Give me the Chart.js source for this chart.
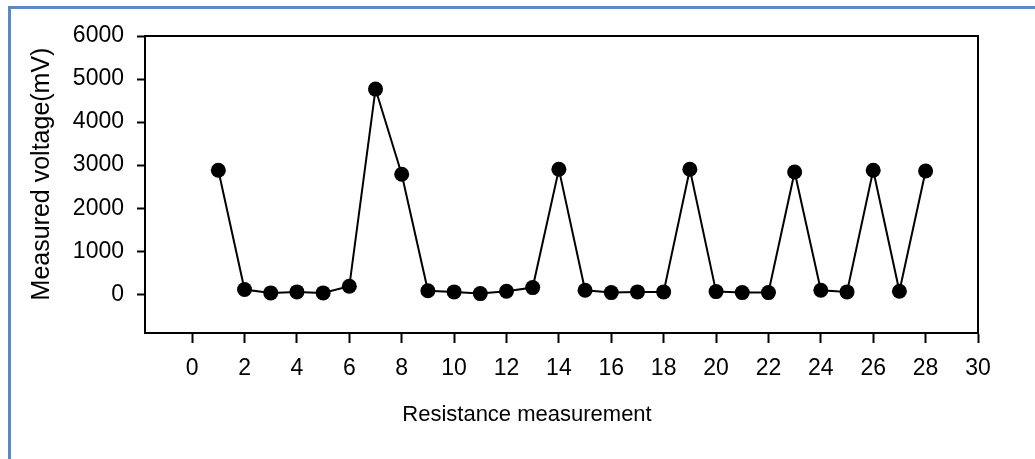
<!DOCTYPE html>
<html lang="en">
<head>
    <meta charset="utf-8" />
    <title>Measured voltage</title>
    <style>
        body {
            margin: 0;
            background: #fff;
        }
        #frame {
            position: absolute;
            left: 8px;
            top: 6px;
            width: 1100px;
            height: 500px;
            border-top: 3px solid #5a89c6;
            border-left: 3px solid #5a89c6;
        }
        #chartBox {
            position: absolute;
            left: 0;
            top: 0;
            width: 1035px;
            height: 459px;
        }
    </style>
</head>
<body>
    <div id="frame"></div>
    <div id="chartBox">
        <canvas id="voltChart"></canvas>
    </div>

    <script src="https://cdn.jsdelivr.net/npm/chart.js"></script>
    <script>
        // values
        var measurement = [1, 2, 3, 4, 5, 6, 7, 8, 9, 10, 11, 12, 13, 14,
            15, 16, 17, 18, 19, 20, 21, 22, 23, 24, 25, 26, 27, 28];
        var voltage = [2880, 110, 32, 55, 32, 185, 4767, 2788, 80, 55, 16, 70, 155, 2903,
            92, 39, 55, 55, 2903, 62, 39, 39, 2841, 92, 55, 2880, 70, 2864];
        var xTicks = [0, 2, 4, 6, 8, 10, 12, 14, 16, 18, 20, 22, 24, 26, 28, 30];
        var yTicks = [0, 1000, 2000, 3000, 4000, 5000, 6000];
        var xTitle = 'Resistance measurement';
        var yTitle = 'Measured voltage(mV)';

        Chart.defaults.font.family = '"Liberation Sans", Arial, sans-serif';
        Chart.defaults.color = '#000';

        var points = measurement.map(function (m, i) {
            return { x: m, y: voltage[i] };
        });

        // closes the box on top and right, and writes the axis titles
        var boxAndTitles = {
            id: 'boxAndTitles',
            afterDraw: function (chart) {
                var ctx = chart.ctx;
                var a = chart.chartArea;
                ctx.save();
                ctx.strokeStyle = '#000';
                ctx.lineWidth = 2;
                ctx.beginPath();
                ctx.moveTo(a.left, a.top);
                ctx.lineTo(a.right, a.top);
                ctx.lineTo(a.right, a.bottom);
                ctx.stroke();

                ctx.fillStyle = '#000';
                ctx.textAlign = 'center';
                ctx.textBaseline = 'alphabetic';
                ctx.font = '22px "Liberation Sans", Arial, sans-serif';
                ctx.fillText(xTitle, 527, 421);

                ctx.translate(49, 174);
                ctx.rotate(-Math.PI / 2);
                ctx.font = '25px "Liberation Sans", Arial, sans-serif';
                ctx.fillText(yTitle, 0, 0);
                ctx.restore();
            }
        };

        var plainNumber = function (v) { return String(v); };

        var ctx = document.getElementById('voltChart').getContext('2d');
        var voltChart = new Chart(ctx, {
            type: 'scatter',
            data: {
                datasets: [{
                    data: points,
                    showLine: true,
                    borderColor: '#000',
                    borderWidth: 2,
                    backgroundColor: '#000',
                    pointRadius: 7.5,
                    pointBorderWidth: 0
                }]
            },
            options: {
                responsive: true,
                maintainAspectRatio: false,
                animation: false,
                layout: {
                    padding: { left: 0, top: 36, right: 57, bottom: 0 }
                },
                plugins: {
                    legend: { display: false },
                    tooltip: { enabled: false }
                },
                scales: {
                    x: {
                        type: 'linear',
                        min: -1.8,
                        max: 30,
                        afterBuildTicks: function (scale) {
                            scale.ticks = xTicks.map(function (v) { return { value: v }; });
                        },
                        afterFit: function (scale) {
                            scale.height = 126;
                        },
                        grid: {
                            drawOnChartArea: false,
                            drawTicks: true,
                            tickLength: 10,
                            tickColor: '#000',
                            tickWidth: 2
                        },
                        border: { display: true, color: '#000', width: 2 },
                        ticks: {
                            font: { size: 23 },
                            padding: 12,
                            maxRotation: 0,
                            autoSkip: false,
                            callback: plainNumber
                        }
                    },
                    y: {
                        min: -900,
                        max: 6000,
                        afterBuildTicks: function (scale) {
                            scale.ticks = yTicks.map(function (v) { return { value: v }; });
                        },
                        afterFit: function (scale) {
                            scale.width = 145;
                        },
                        grid: {
                            drawOnChartArea: false,
                            drawTicks: true,
                            tickLength: 8,
                            tickColor: '#000',
                            tickWidth: 2
                        },
                        border: { display: true, color: '#000', width: 2 },
                        ticks: {
                            font: { size: 23 },
                            padding: 13,
                            autoSkip: false,
                            callback: plainNumber
                        }
                    }
                }
            },
            plugins: [boxAndTitles]
        });
    </script>
</body>
</html>
